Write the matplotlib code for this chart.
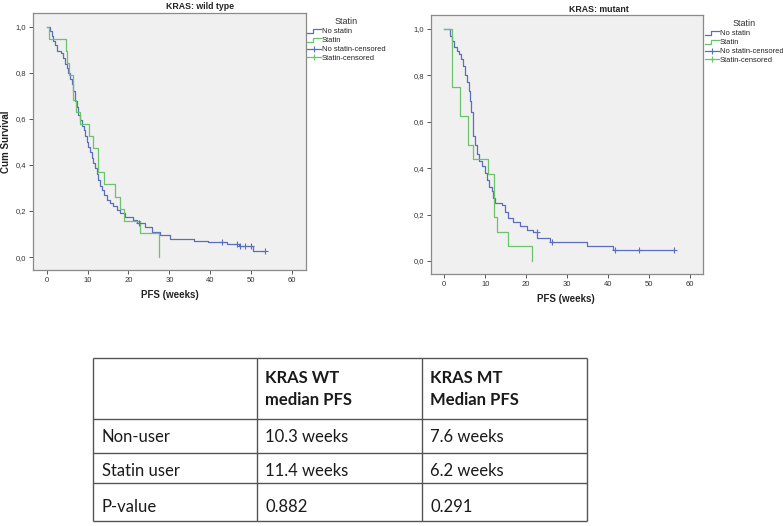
import numpy as np
import matplotlib
matplotlib.use("Agg")
import matplotlib.pyplot as plt
from matplotlib.lines import Line2D
from matplotlib.legend_handler import HandlerBase
from matplotlib.ticker import FuncFormatter

# ---------------- data ----------------
wt_nostatin_t = [0, 0.8, 1.2, 1.6, 2.0, 2.4, 3.6, 4.1, 4.5, 4.9, 5.3, 5.7, 6.1, 6.5, 6.9,
                 7.3, 7.7, 8.1, 8.6, 9.0, 9.4, 9.8, 10.2, 10.6, 11.0, 11.4, 11.8, 12.2,
                 12.6, 13.0, 13.5, 14.0, 14.7, 15.5, 16.3, 17.1, 17.9, 19.2, 21.2, 22.0,
                 24.0, 25.7, 27.7, 30.2, 36.1, 39.5, 44.0, 47.0, 50.4, 53.4]
wt_nostatin_s = [1.0, 0.98, 0.96, 0.94, 0.92, 0.895, 0.885, 0.865, 0.84, 0.82, 0.80, 0.775,
                 0.75, 0.72, 0.68, 0.65, 0.615, 0.595, 0.57, 0.55, 0.525, 0.50, 0.48, 0.455,
                 0.43, 0.41, 0.385, 0.36, 0.335, 0.31, 0.29, 0.27, 0.25, 0.235, 0.22, 0.205,
                 0.19, 0.172, 0.16, 0.15, 0.13, 0.11, 0.096, 0.08, 0.072, 0.065, 0.058, 0.05,
                 0.025, 0.025]
wt_nostatin_cens = [22.6, 42.8, 46.6, 47.3, 48.4, 50.0, 53.4]

wt_statin_t = [0, 0.55, 4.7, 5.0, 5.5, 6.35, 7.2, 8.2, 10.3, 11.4, 12.5, 14.0, 16.7,
               17.9, 19.0, 22.7, 27.5]
wt_statin_s = [1.0, 0.947, 0.895, 0.842, 0.789, 0.684, 0.632, 0.579, 0.526, 0.474, 0.368,
               0.316, 0.263, 0.211, 0.158, 0.105, 0.0]

mt_nostatin_t = [0, 1.4, 1.8, 2.3, 3.0, 3.6, 4.0, 4.5, 5.0, 5.5, 6.0, 6.3, 6.6, 6.9, 7.1,
                 7.4, 7.9, 8.5, 9.2, 9.9, 10.5, 10.9, 11.6, 12.0, 12.4, 14.0, 14.8, 15.6,
                 16.8, 18.5, 20.1, 21.7, 22.7, 25.8, 34.9, 41.1, 56.1]
mt_nostatin_s = [1.0, 0.97, 0.945, 0.92, 0.905, 0.89, 0.87, 0.84, 0.80, 0.77, 0.73, 0.69,
                 0.64, 0.59, 0.54, 0.50, 0.46, 0.43, 0.41, 0.38, 0.35, 0.32, 0.30, 0.27,
                 0.25, 0.24, 0.21, 0.185, 0.17, 0.15, 0.135, 0.125, 0.098, 0.082, 0.066,
                 0.048, 0.048]
mt_nostatin_cens = [22.6, 26.3, 41.6, 47.6, 56.1]

mt_statin_t = [0, 2.0, 3.9, 5.9, 7.1, 10.7, 12.2, 12.9, 15.6, 21.5]
mt_statin_s = [1.0, 0.75, 0.625, 0.5, 0.4375, 0.375, 0.1875, 0.125, 0.0625, 0.0]

titles = ["KRAS: wild type", "KRAS: mutant"]
legend_labels = ["No statin", "Statin", "No statin-censored", "Statin-censored"]
x_ticks = [0, 10, 20, 30, 40, 50, 60]
y_ticks = [0.0, 0.2, 0.4, 0.6, 0.8, 1.0]

row_labels = ["Non-user", "Statin user", "P-value"]
col_headers = ["KRAS WT\nmedian PFS", "KRAS MT\nMedian PFS"]
cell_values = [["10.3 weeks", "7.6 weeks"],
               ["11.4 weeks", "6.2 weeks"],
               ["0.882", "0.291"]]

# ---------------- style ----------------
BLUE = "#5b6dbd"
GREEN = "#6cc36c"
W, H = 783, 526
FONT = "Liberation Sans"

fig = plt.figure(figsize=(W / 100, H / 100), dpi=100)


def px(x, y):
    return x / W, 1 - y / H


class StepHandler(HandlerBase):
    def create_artists(self, legend, orig_handle, xdescent, ydescent, width, height,
                       fontsize, trans):
        x0, y0 = -xdescent, -ydescent
        xs = [x0, x0 + 0.45 * width, x0 + 0.45 * width, x0 + width]
        ys = [y0 + 0.15 * height, y0 + 0.15 * height, y0 + 0.85 * height, y0 + 0.85 * height]
        ln = Line2D(xs, ys, color=orig_handle.get_color(), lw=orig_handle.get_linewidth())
        ln.set_transform(trans)
        return [ln]


def km_panel(rect, xlim, ylim, curves, cens, title, title_xy, xlabel_xy, legend_xy, ylabel=None):
    ax = fig.add_axes(rect)
    ax.set_facecolor("#f0f0f0")
    for sp in ax.spines.values():
        sp.set_color("#8a8a8a")
        sp.set_linewidth(0.9)
    for (t, s, c) in curves:
        ax.step(t, s, where="post", color=c, lw=0.9)
    for (ct, t, s, c) in cens:
        idx = np.searchsorted(t, ct, side="right") - 1
        ax.plot(ct, np.asarray(s)[idx], ls="none", marker="+", ms=3.8, mew=0.8, color=c)
    ax.set_xlim(*xlim)
    ax.set_ylim(*ylim)
    ax.set_xticks(x_ticks)
    ax.set_yticks(y_ticks)
    ax.yaxis.set_major_formatter(FuncFormatter(lambda v, p: f"{v:.1f}".replace(".", ",")))
    ax.tick_params(direction="out", length=3, width=0.7, color="#555555",
                   labelsize=5.5, labelcolor="#333333", pad=2, top=False, right=False)
    for lab in ax.get_xticklabels() + ax.get_yticklabels():
        lab.set_fontfamily(FONT)
    fig.text(*px(*title_xy), title, ha="center", va="center", fontsize=6.3,
             fontweight="bold", family=FONT, color="#222222")
    fig.text(*px(*xlabel_xy), "PFS (weeks)", ha="center", va="center", fontsize=7,
             fontweight="bold", family=FONT, color="#222222")
    if ylabel:
        fig.text(*px(6.5, 141.5), ylabel, ha="center", va="center", rotation=90,
                 fontsize=7, fontweight="bold", family=FONT, color="#222222")
    handles = [Line2D([], [], color=BLUE, lw=0.9), Line2D([], [], color=GREEN, lw=0.9),
               Line2D([], [], color=BLUE, lw=0.9, marker="+", ms=4, mew=0.8),
               Line2D([], [], color=GREEN, lw=0.9, marker="+", ms=4, mew=0.8)]
    leg = fig.legend(handles, legend_labels, loc="upper left", bbox_to_anchor=px(*legend_xy),
                     frameon=False, title="Statin", borderpad=0, borderaxespad=0,
                     handlelength=1.8, handletextpad=0.15, labelspacing=0.22,
                     prop={"family": FONT, "size": 5.4},
                     title_fontproperties={"family": FONT, "size": 6.5},
                     handler_map={handles[0]: StepHandler(), handles[1]: StepHandler()})
    leg.get_title().set_color("#333333")
    for tx in leg.get_texts():
        tx.set_color("#222222")
    return ax


km_panel([33 / W, 1 - 270 / H, 273 / W, 257 / H], (-3.35, 63.4), (-0.056, 1.06),
         [(wt_nostatin_t, wt_nostatin_s, BLUE), (wt_statin_t, wt_statin_s, GREEN)],
         [(wt_nostatin_cens, wt_nostatin_t, wt_nostatin_s, BLUE)],
         titles[0], (200.5, 6.7), (169.7, 295), (307, 17.5), ylabel="Cum Survival")

km_panel([430.7 / W, 1 - 274 / H, 272.3 / W, 259 / H], (-3.32, 63.2), (-0.056, 1.059),
         [(mt_nostatin_t, mt_nostatin_s, BLUE), (mt_statin_t, mt_statin_s, GREEN)],
         [(mt_nostatin_cens, mt_nostatin_t, mt_nostatin_s, BLUE)],
         titles[1], (599, 9.3), (566, 299), (705, 19.5))

# ---------------- table ----------------
tax = fig.add_axes([0, 0, 1, 1], zorder=-1)
tax.set_xlim(0, W)
tax.set_ylim(H, 0)
tax.axis("off")
col_x = [92.7, 256.7, 421.7, 586.7]
row_y = [358.3, 419, 453.3, 483.3, 521]
for x in col_x:
    tax.plot([x, x], [row_y[0], row_y[-1]], color="#555555", lw=1.0, solid_capstyle="butt")
for y in row_y:
    tax.plot([col_x[0], col_x[-1]], [y, y], color="#555555", lw=1.0, solid_capstyle="butt")

TFONT = "Lato"
for j, hdr in enumerate(col_headers):
    tax.text(col_x[j + 1] + 8.5, (row_y[0] + row_y[1]) / 2 + 0.5, hdr, ha="left", va="center",
             fontsize=12, fontweight="bold", family=TFONT, color="#1a1a1a", linespacing=1.45)
text_y = [436.7, 471.2, 506.5]
for i, lab in enumerate(row_labels):
    tax.text(col_x[0] + 9, text_y[i], lab, ha="left", va="center", fontsize=12,
             family=TFONT, color="#1a1a1a")
    for j, val in enumerate(cell_values[i]):
        tax.text(col_x[j + 1] + 8.5, text_y[i], val, ha="left", va="center", fontsize=12,
                 family=TFONT, color="#1a1a1a")

fig.savefig("out.png", dpi=100)
